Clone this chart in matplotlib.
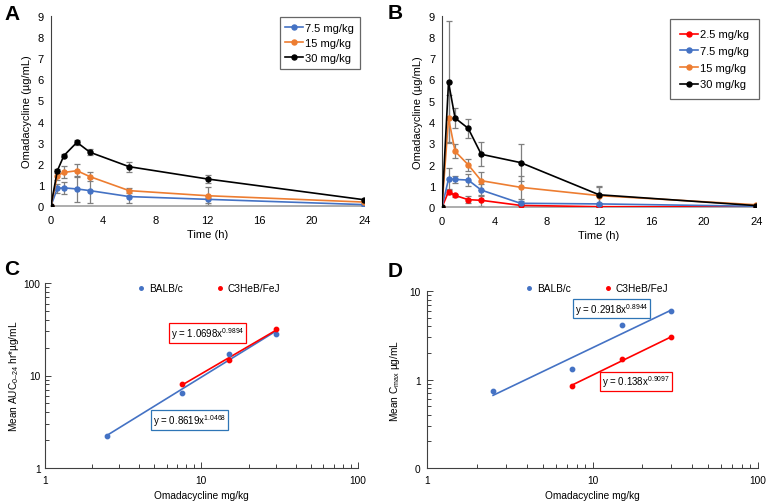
import matplotlib
matplotlib.use('Agg')
from matplotlib import pyplot as plt
from matplotlib.ticker import LogLocator, NullFormatter, FixedLocator, FixedFormatter
import numpy as np

plt.rcParams['font.family'] = ['Liberation Sans', 'DejaVu Sans']
plt.rcParams['mathtext.fontset'] = 'custom'
plt.rcParams['mathtext.rm'] = 'Liberation Sans'
plt.rcParams['mathtext.it'] = 'Liberation Sans:italic'

# Panel A / B: time course data
times = [0, 0.5, 1, 2, 3, 6, 12, 24]

a_labels = ['7.5 mg/kg', '15 mg/kg', '30 mg/kg']
a_75 = [0, 0.85, 0.87, 0.82, 0.74, 0.46, 0.33, 0.08]
a_75_err = [0, 0.2, 0.28, 0.6, 0.58, 0.3, 0.15, 0.03]
a_15 = [0, 1.45, 1.6, 1.68, 1.4, 0.74, 0.5, 0.2]
a_15_err = [0, 0.2, 0.28, 0.3, 0.22, 0.12, 0.42, 0.04]
a_30 = [0, 1.68, 2.39, 3.02, 2.55, 1.87, 1.29, 0.31]
a_30_err = [0, 0.1, 0.06, 0.13, 0.15, 0.23, 0.2, 0.04]

b_labels = ['2.5 mg/kg', '7.5 mg/kg', '15 mg/kg', '30 mg/kg']
b_25 = [0, 0.74, 0.56, 0.36, 0.33, 0.09, 0.03, 0.02]
b_25_err = [0, 0.12, 0.06, 0.18, 0.25, 0.05, 0.02, 0.01]
b_75 = [0, 1.33, 1.31, 1.28, 0.81, 0.19, 0.16, 0.05]
b_75_err = [0, 0.5, 0.18, 0.27, 0.3, 0.1, 0.05, 0.02]
b_15 = [0, 4.18, 2.63, 2.0, 1.25, 0.94, 0.55, 0.12]
b_15_err = [0, 1.1, 0.32, 0.28, 0.42, 0.55, 0.4, 0.04]
b_30 = [0, 5.87, 4.19, 3.71, 2.49, 2.10, 0.59, 0.08]
b_30_err = [0, 2.87, 0.47, 0.45, 0.57, 0.88, 0.4, 0.03]

# Panel C / D: dose relationships
balb_dose = [2.5, 7.5, 15, 30]
c3h_dose = [7.5, 15, 30]
c_balb_auc = [2.24, 6.5, 17.2, 28.3]
c_c3h_auc = [8.0, 14.8, 32.0]
d_balb_cmax = [0.74, 1.33, 4.18, 5.98]
d_c3h_cmax = [0.855, 1.69, 3.03]

# trendline coefficients as printed on the chart
c_balb_fit = [0.8619, 1.0468]
c_c3h_fit = [1.0698, 0.9894]
d_balb_fit = [0.2918, 0.8944]
d_c3h_fit = [0.138, 0.9097]

BLUE = '#4472c4'
ORANGE = '#ed7d31'
BLACK = '#000000'
RED = '#ff0000'
GREY = '#7f7f7f'
FS = 8
FS2 = 7.3


def time_panel(ax, series, colors, labels, anchor, leg_kw):
    for (vals, errs), col, lab in zip(series, colors, labels):
        ax.errorbar(times, vals, yerr=errs, fmt='none', ecolor=GREY,
                    elinewidth=0.9, capsize=2, capthick=0.9, zorder=2)
        ax.plot(times, vals, color=col, marker='o', markersize=3.6,
                linewidth=1.2, label=lab, zorder=3)
    ax.set_xlim(0, 24)
    ax.set_ylim(0, 9)
    ax.set_xticks([0, 4, 8, 12, 16, 20, 24])
    ax.set_yticks(range(10))
    ax.tick_params(axis='x', length=0, labelsize=FS, pad=6)
    ax.tick_params(axis='y', length=0, labelsize=FS, pad=5)
    for s in ['top', 'right']:
        ax.spines[s].set_visible(False)
    ax.spines['left'].set_color('#404040')
    ax.spines['bottom'].set_color('#a0a0a0')
    ax.spines['bottom'].set_linewidth(1.2)
    ax.set_xlabel('Time (h)', fontsize=FS, labelpad=3)
    ax.set_ylabel('Omadacycline (µg/mL)', fontsize=FS, labelpad=4)
    leg = ax.legend(loc='upper right', fontsize=FS, frameon=True, fancybox=False,
                    bbox_to_anchor=anchor, borderaxespad=0, **leg_kw)
    leg.get_frame().set_edgecolor('#404040')
    leg.get_frame().set_linewidth(0.9)


def power_panel(ax, ylim):
    ax.set_xscale('log')
    ax.set_yscale('log')
    ax.set_xlim(1, 100)
    ax.set_ylim(*ylim)
    for s in ['top', 'right']:
        ax.spines[s].set_visible(False)
    ax.spines['left'].set_color('#404040')
    ax.spines['bottom'].set_color('#404040')
    ax.tick_params(which='both', direction='in', labelsize=FS2, width=0.7, color='#404040')
    ax.tick_params(which='major', length=4, pad=5)
    ax.tick_params(which='minor', length=3)
    ax.xaxis.set_major_locator(FixedLocator([1, 10, 100]))
    ax.xaxis.set_major_formatter(FixedFormatter(['1', '10', '100']))
    ax.xaxis.set_minor_locator(LogLocator(base=10, subs=np.arange(2, 10)))
    ax.xaxis.set_minor_formatter(NullFormatter())
    ax.yaxis.set_minor_locator(LogLocator(base=10, subs=np.arange(2, 10)))
    ax.yaxis.set_minor_formatter(NullFormatter())
    ax.set_xlabel('Omadacycline mg/kg', fontsize=FS2, labelpad=4)


def trend(ax, doses, fit, color):
    xs = np.array([doses[0], doses[-1]])
    ax.plot(xs, fit[0] * xs ** fit[1], color=color, linewidth=1.2)


def eq_box(ax, x, y, txt, edge):
    ax.text(x, y, txt, fontsize=7.0, va='center', ha='left',
            bbox=dict(boxstyle='square,pad=0.2', fc='white', ec=edge, lw=0.9))


fig = plt.figure(figsize=(7.7, 5.02), dpi=100)

axA = fig.add_axes([0.066, 0.587, 0.407, 0.380])
time_panel(axA, [(a_75, a_75_err), (a_15, a_15_err), (a_30, a_30_err)],
           [BLUE, ORANGE, BLACK], a_labels, (0.985, 0.99),
           dict(handlelength=1.6, borderpad=0.5, labelspacing=0.45, handletextpad=0.2))
axB = fig.add_axes([0.574, 0.585, 0.408, 0.382])
time_panel(axB, [(b_25, b_25_err), (b_75, b_75_err), (b_15, b_15_err), (b_30, b_30_err)],
           [RED, BLUE, ORANGE, BLACK], b_labels, (1.01, 0.98),
           dict(handlelength=1.6, borderpad=0.9, labelspacing=0.6, handletextpad=0.2))

axC = fig.add_axes([0.058, 0.066, 0.407, 0.368])
power_panel(axC, (1, 100))
axC.yaxis.set_major_locator(FixedLocator([1, 10, 100]))
axC.yaxis.set_major_formatter(FixedFormatter(['1', '10', '100']))
axC.tick_params(axis='y', which='major', pad=3)
axC.scatter(balb_dose, c_balb_auc, color=BLUE, s=10, zorder=3, label='BALB/c')
axC.scatter(c3h_dose, c_c3h_auc, color=RED, s=10, zorder=3, label='C3HeB/FeJ')
trend(axC, balb_dose, c_balb_fit, BLUE)
trend(axC, c3h_dose, c_c3h_fit, RED)
axC.set_ylabel('Mean AUC$_{0\u201324}$ hr*µg/mL', fontsize=FS2, labelpad=2)
eq_box(axC, 6.4, 28.8, 'y = 1.0698x$^{0.9894}$', RED)
eq_box(axC, 4.9, 3.28, 'y = 0.8619x$^{1.0468}$', '#2e75b6')
axC.legend(loc='upper center', ncol=2, frameon=False, fontsize=FS2, handletextpad=0.2,
           columnspacing=3.0, bbox_to_anchor=(0.52, 1.05), markerscale=0.8,
           handlelength=1.2)

axD = fig.add_axes([0.555, 0.066, 0.429, 0.352])
power_panel(axD, (0.1, 10))
axD.yaxis.set_major_locator(FixedLocator([0.1, 1, 10]))
axD.yaxis.set_major_formatter(FixedFormatter(['0', '1', '10']))
axD.scatter(balb_dose, d_balb_cmax, color=BLUE, s=10, zorder=3, label='BALB/c')
axD.scatter(c3h_dose, d_c3h_cmax, color=RED, s=10, zorder=3, label='C3HeB/FeJ')
trend(axD, balb_dose, d_balb_fit, BLUE)
trend(axD, c3h_dose, d_c3h_fit, RED)
axD.set_ylabel('Mean C$_{\\rm max}$ µg/mL', fontsize=FS2, labelpad=5)
eq_box(axD, 7.83, 6.34, 'y = 0.2918x$^{0.8944}$', '#2e75b6')
eq_box(axD, 11.4, 0.95, 'y = 0.138x$^{0.9097}$', RED)
axD.legend(loc='upper center', ncol=2, frameon=False, fontsize=FS2, handletextpad=0.2,
           columnspacing=3.0, bbox_to_anchor=(0.51, 1.1), markerscale=0.8,
           handlelength=1.2)

for lab, x, y in [('A', 0.006, 0.972), ('B', 0.504, 0.974), ('C', 0.005, 0.464), ('D', 0.504, 0.46)]:
    fig.text(x, y, lab, fontsize=15, fontweight='bold', va='center')

fig.savefig('out.png', dpi=100)
